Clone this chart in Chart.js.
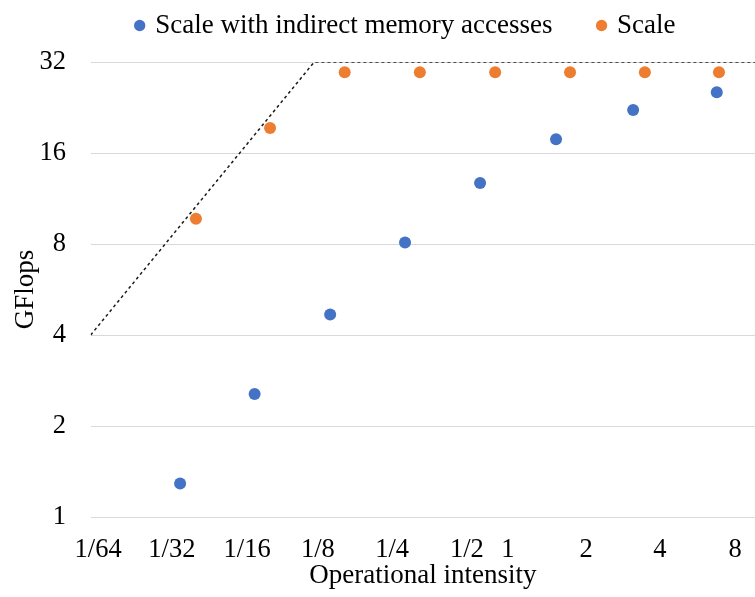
<!DOCTYPE html>
<html>
<head>
<meta charset="utf-8">
<script src="https://cdn.jsdelivr.net/npm/chart.js@4/dist/chart.umd.min.js"></script>
<style>
  html, body { margin: 0; padding: 0; background: #ffffff; }
  canvas { display: block; }
</style>
</head>
<body>
<canvas id="c" width="755" height="597"></canvas>
<script>
// ---- data ----
const xTickValues = [1/64, 1/32, 1/16, 1/8, 1/4, 1/2, 1, 2, 4, 8];
const xTickLabels = ['1/64', '1/32', '1/16', '1/8', '1/4', '1/2', '1', '2', '4', '8'];
const yTickValues = [1, 2, 4, 8, 16, 32];
const yTickLabels = ['1', '2', '4', '8', '16', '32'];

const indirectX = [0.0359, 0.0718, 0.145, 0.291, 0.585, 1.186, 2.43, 5.29];
const indirectY = [1.29, 2.55, 4.68, 8.09, 12.74, 17.77, 22.2, 25.4];
const scaleX = [0.0416, 0.0829, 0.166, 0.334, 0.673, 1.351, 2.71, 5.40];
const scaleY = [9.69, 19.36, 29.6, 29.6, 29.6, 29.6, 29.6, 29.6];

const roofX = [1/64, 1/8, 8];
const roofY = [4, 32, 32];

// ---- style ----
const xMin = 1/64, xMax = 7.55;
const yMin = 1, yMax = 32;
// horizontal nudge of x tick labels (in octaves), as placed in the reference
const xLabelNudge = [0.1, 0.09, 0.1, 0.05, 0.045, 0.05, -0.4, -0.35, -0.36, -0.35];
const FAMILY = "'Liberation Serif', 'Times New Roman', serif";
const TICK_FONT = { family: FAMILY, size: 26.5 };
const TEXT_FONT = { family: FAMILY, size: 27 };
const BLUE = '#4472C4', ORANGE = '#ED7D31', GRID = '#D9D9D9';

const pts = (xs, ys) => xs.map((x, i) => ({ x: x, y: ys[i] }));

Chart.defaults.font.family = FAMILY;
Chart.defaults.font.size = 27;
Chart.defaults.color = '#000000';

new Chart(document.getElementById('c'), {
  type: 'scatter',
  data: {
    datasets: [
      { label: 'Scale with indirect memory accesses', data: pts(indirectX, indirectY),
        backgroundColor: BLUE, borderColor: BLUE, borderWidth: 0, pointRadius: 6, pointHoverRadius: 6, order: 1 },
      { label: 'Scale', data: pts(scaleX, scaleY),
        backgroundColor: ORANGE, borderColor: ORANGE, borderWidth: 0, pointRadius: 6, pointHoverRadius: 6, order: 2 },
      { label: 'Roofline', data: pts(roofX, roofY), showLine: true, fill: false,
        borderColor: '#1a1a1a', borderWidth: 1.5, borderDash: [3, 3], pointRadius: 0, pointHoverRadius: 0, order: 3 }
    ]
  },
  options: {
    responsive: false,
    animation: false,
    events: [],
    layout: { autoPadding: false, padding: { top: -35, left: 0, right: 0, bottom: 0 } },
    plugins: {
      tooltip: { enabled: false },
      // empty spacer between the legend and the plot area
      title: { display: true, text: '', weight: 0, padding: 0,
        font: { family: FAMILY, size: 13, lineHeight: 1 } },
      legend: {
        position: 'top',
        align: 'start',
        fullSize: false,
        labels: {
          filter: (item) => item.datasetIndex < 2,
          usePointStyle: true,
          pointStyle: 'circle',
          boxWidth: 4,
          boxHeight: 8,
          padding: 47,
          color: '#000000',
          font: TEXT_FONT
        }
      }
    },
    scales: {
      x: {
        type: 'logarithmic',
        min: xMin,
        max: xMax,
        afterBuildTicks: (s) => {
          s.ticks = xTickValues.map((v, i) => ({ value: v * Math.pow(2, xLabelNudge[i]) }));
        },
        afterFit: (s) => { s.height = 80; s.paddingLeft = 0; s.paddingRight = 0; },
        grid: { display: false },
        border: { display: false },
        ticks: {
          autoSkip: false, maxRotation: 0, minRotation: 0, padding: 9,
          color: '#000000', font: TICK_FONT,
          callback: (v, i) => xTickLabels[i]
        },
        title: { display: true, text: 'Operational intensity', color: '#000000', font: TEXT_FONT,
          padding: { top: 0, bottom: 5 } }
      },
      y: {
        type: 'logarithmic',
        min: yMin,
        max: yMax,
        afterBuildTicks: (s) => {
          s.ticks = yTickValues.map((v) => ({ value: v }));
        },
        afterFit: (s) => { s.width = 90.7; },
        grid: { color: GRID, lineWidth: 1, drawTicks: false },
        border: { display: false },
        ticks: {
          padding: 24.6, color: '#000000', font: TICK_FONT,
          callback: (v, i) => yTickLabels[i]
        },
        title: { display: true, text: 'GFlops', color: '#000000', font: TEXT_FONT,
          padding: { top: 10, bottom: 0 } }
      }
    }
  }
});
</script>
</body>
</html>
